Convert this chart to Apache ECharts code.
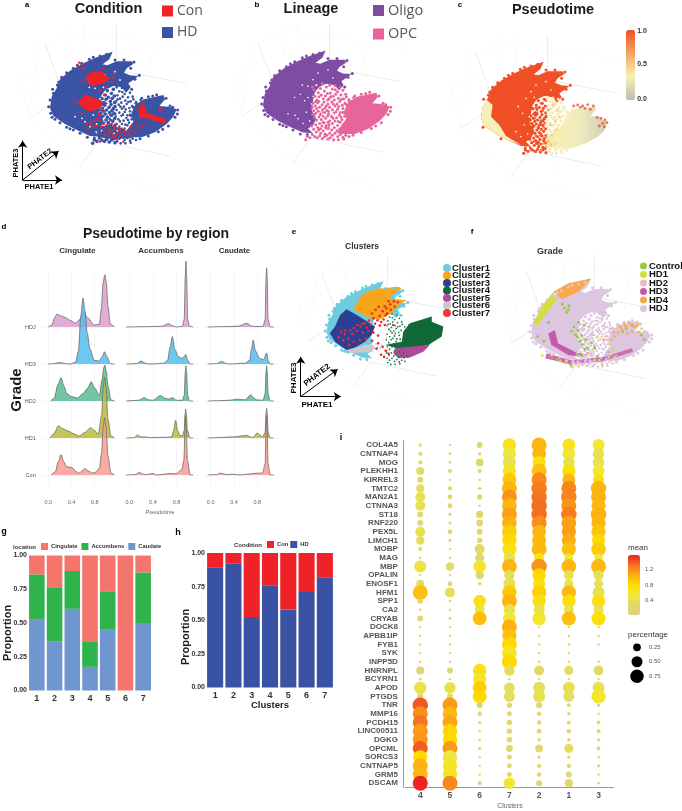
<!DOCTYPE html>
<html><head><meta charset="utf-8">
<style>html,body{margin:0;padding:0;background:#fff}#c{width:682px;height:811px}</style>
<script src="https://cdn.jsdelivr.net/npm/echarts@6/dist/echarts.min.js"></script>
</head><body><div id="c"></div>
<script>
// ---------- embedding outlines (projected PHATE units)
const cloudUpper=[[338,155],[328,178],[308,193],[322,196],[350,184],[395,184],[400,192],[380,205],[372,218],[390,226],[415,228],[400,240],[385,250],[392,262],[378,278],[365,262],[340,258],[318,268],[305,285],[300,310],[296,340],[310,365],[300,385],[285,395],[300,410],[270,408],[235,392],[195,372],[160,348],[150,325],[155,290],[170,265],[180,238],[210,212],[250,190],[290,172]];
const cloudLobe=[[392,345],[405,315],[432,298],[490,285],[495,298],[478,318],[505,320],[530,328],[520,350],[500,372],[465,397],[425,412],[395,412],[372,410],[385,385],[400,365]];
const cloudLowerBand=[[285,378],[340,378],[400,395],[395,415],[340,418],[295,412]];
const edgeUpper=[[160,280],[150,300],[146,320],[152,340],[165,358],[180,368],[200,382],[220,390],[240,400],[262,412],[172,255],[185,232],[200,218],[220,205],[245,190],[268,178],[300,168],[320,163],[345,180],[372,180],[402,186],[392,205],[418,226],[405,238],[395,268],[280,172],[232,196],[176,246],[158,268],[156,352],[210,386],[283,414]];
const edgeLobe=[[408,310],[425,295],[445,290],[470,284],[498,295],[510,318],[533,330],[525,352],[505,378],[475,395],[445,408],[420,416],[390,345],[400,322],[458,288],[518,322],[532,342],[488,388]];
const midWest=[[298,268],[303,276],[310,262],[316,285],[322,272],[328,258],[334,280],[340,268],[306,296],[312,308],[318,298],[325,292],[331,304],[337,295],[343,288],[300,318],[307,325],[314,316],[320,330],[327,322],[333,314],[340,326],[344,308],[302,340],[309,348],[316,342],[322,352],[329,338],[335,346],[342,340],[305,362],[312,370],[318,360],[325,368],[331,358],[338,364],[344,356],[308,384],[314,392],[320,380],[327,388],[333,378],[340,386],[345,376],[302,398],[310,406],[317,400],[323,410],[330,402],[336,412],[343,398],[298,414],[305,420],[313,424],[320,418],[328,426],[335,420],[342,416],[296,388],[304,352],[311,334],[298,330],[326,345],[318,312],[336,332],[330,376],[345,320],[299,352],[308,312],[322,396],[338,392],[291,424],[283,420],[278,430],[345,428]];
const midEast=[[350,262],[358,274],[366,264],[374,282],[382,268],[390,278],[398,290],[352,286],[360,296],[368,290],[376,302],[384,292],[392,304],[400,298],[408,306],[348,304],[356,314],[364,308],[372,320],[380,312],[388,324],[396,318],[350,330],[358,338],[366,326],[374,336],[382,346],[390,334],[347,350],[355,358],[363,348],[371,362],[379,354],[387,368],[395,358],[350,372],[358,380],[366,372],[374,386],[382,376],[390,388],[398,382],[348,392],[356,400],[364,392],[372,402],[380,396],[388,406],[396,400],[404,392],[350,410],[358,416],[366,410],[374,420],[382,414],[390,422],[398,416],[406,408],[414,400],[352,424],[362,430],[376,430],[392,428],[408,420],[418,405],[346,342],[361,320],[377,328],[369,344],[385,306],[353,298],[367,276],[384,360],[348,384],[360,364],[376,374],[393,347],[403,352],[411,330],[416,312],[422,300]];
const whiteSpecks=[[300,245],[310,262],[285,265],[295,320],[280,345],[290,372],[270,380],[255,365],[315,225],[345,215],[360,240],[330,275],[262,290],[275,310],[246,355],[225,350],[285,300],[245,300],[268,262],[325,345],[316,372],[335,355],[305,392],[342,400],[322,315],[300,296],[352,392],[378,390],[360,350]];
// panel a
const redPatchA=[[258,228],[280,212],[305,215],[330,235],[312,250],[280,258],[262,250]];
const redPatchB=[[235,305],[255,283],[285,295],[310,305],[300,325],[270,335],[248,325]];
const redPatchC=[[415,340],[430,302],[440,338],[500,358],[495,372],[445,355],[420,355]];
const redPoints=[[238,188],[245,192],[232,195],[250,205],[340,230],[320,260],[300,270],[300,345],[292,355],[310,372],[285,362],[270,368],[300,362],[320,375],[335,372],[345,380],[355,388],[348,372],[365,385],[340,395],[352,402],[330,395],[375,395],[385,405],[395,392],[405,398],[415,388],[425,380],[440,370],[455,355],[420,318],[428,330],[470,352],[485,325],[478,330],[315,405],[300,425],[370,425],[345,410],[280,380],[265,385],[260,372],[245,340],[230,310],[225,300],[312,285],[250,240],[335,245],[340,220],[310,205],[275,235],[285,245],[295,228],[320,240],[306,332],[296,342],[318,382],[328,388],[360,395],[342,388],[310,390],[325,405],[392,380],[408,375],[432,350],[462,362],[410,330],[272,372],[290,378],[305,380],[338,408],[372,405],[382,392],[362,408],[350,418]];
// panel c
const creamRim=[[165,268],[185,285],[180,320],[205,345],[225,378],[270,405],[235,392],[195,372],[160,348],[150,325],[155,290]];
const lobePseudo=[[337,405],[350,380],[395,345],[405,315],[432,298],[490,290],[495,298],[478,318],[505,320],[527,340],[520,362],[500,380],[465,400],[425,414],[375,416]];
const pseudoPoints=[[300,285,1],[315,292,1],[330,280,1],[345,272,1],[318,308,1],[335,302,1],[312,325,1],[330,332,1],[345,318,1],[305,345,1],[322,355,1],[338,352,.9],[315,378,1],[330,372,1],[345,380,.85],[308,395,1],[322,402,1],[338,400,.75],[352,395,.6],[300,418,1],[315,425,.95],[330,420,.8],[345,410,.65],[360,405,.55],[372,402,.5],[362,375,.5],[375,360,.5],[358,345,.6],[372,332,.5],[385,320,.5],[352,300,.7],[365,285,.6],[380,300,.5],[428,288,1],[440,285,1],[455,288,1],[470,284,1],[487,288,1],[448,292,1],[498,322,1],[510,325,1],[522,330,1],[528,338,1],[515,340,1],[505,348,1],[520,350,1],[478,298,1],[462,295,1]];
// panel e (same projection, coloured by cluster)
const clusterOrange=[[238,248],[266,201],[304,182],[387,174],[398,179],[370,198],[354,212],[414,218],[387,234],[365,262],[321,284],[282,272]];
const clusterNavy=[[178,305],[195,267],[216,248],[250,267],[310,305],[299,333],[277,355],[222,387],[178,355],[161,327]];
const clusterGrey=[[194,388],[277,366],[337,355],[337,377],[299,388],[233,393]];
const clusterGreen=[[403,322],[425,294],[497,272],[497,289],[535,305],[530,338],[486,366],[431,377],[387,377],[343,366],[398,355]];
const clusterPurple=[[376,377],[453,369],[491,366],[469,388],[425,407],[387,410],[370,393]];
const clusterRedPoints=[[300,262],[312,250],[325,270],[335,255],[348,245],[360,232],[372,222],[385,225],[290,285],[305,278],[318,285],[330,290],[345,268],[338,282],[275,295],[262,305],[250,320],[235,330],[222,345],[205,350],[190,340],[270,325],[288,320],[305,325],[320,335],[210,330],[240,355],[260,350],[280,345],[300,352],[225,365],[320,360],[335,372],[345,385],[355,395],[340,405],[330,398],[315,378],[370,300],[375,240],[355,222],[342,238],[322,240],[295,300],[282,308],[268,296],[252,300],[240,310],[228,318],[212,318],[198,322],[310,296],[326,302],[342,300],[350,262],[362,250]];
// panel f
const gradeOrangeTip=[[342,150],[299,193],[247,217],[220,193],[268,166]];
const gradeYellowRim=[[157,293],[183,240],[220,193],[231,219],[194,267],[167,303]];
const gradeMagentaArc=[[225,314],[235,356],[288,383],[330,394],[319,401],[267,394],[214,362],[204,325]];
const gradeMagentaBand=[[199,388],[278,410],[384,399],[469,372],[474,383],[373,415],[268,422],[194,404]];
const gradeGreenPoints=[[255,245],[270,238],[262,258],[285,305],[298,315],[310,332],[322,345],[305,350],[290,330],[340,355],[352,372],[320,375],[310,395],[295,392],[440,320],[452,310],[360,398],[275,425],[232,408],[190,350],[170,335],[205,290],[300,290],[318,300],[470,300],[500,330],[508,345],[278,318],[296,336],[312,360],[330,372],[268,250],[248,232]];
const gradeOrangePoints=[[430,302],[445,295],[462,292],[478,305],[440,315],[425,322],[455,325],[470,318],[485,300],[415,335],[405,345],[490,320],[380,345],[350,365],[395,385],[420,395],[330,388],[435,308],[450,302],[470,295],[412,322]];
const gradeYellowPoints=[[300,430],[280,432],[215,395],[350,410],[375,425],[405,408],[185,395],[360,335],[395,360],[410,375],[500,310],[492,295],[242,412],[260,420]];
const gradePinkPoints=[[345,330],[365,315],[385,335],[400,310],[380,300],[335,305],[360,285],[375,280]];
// frame of the 3D box
const wireMain=[[[135,130],[175,240]],[[350,75],[350,180]],[[375,215],[560,250]],[[280,420],[510,468]],[[90,355],[155,310]],[[240,500],[290,430]]];
const wireFaint=[[[135,130],[240,95]],[[240,95],[585,150]],[[205,82],[215,180]],[[250,70],[258,175]],[[460,135],[445,250]],[[60,235],[90,355]],[[90,355],[240,500]],[[240,500],[480,570]],[[60,235],[135,200]],[[360,500],[395,440]],[[150,420],[190,380]],[[120,130],[85,355]]];
const arrowsA=[[[68,540],[68,422]],[[68,540],[176,453]],[[68,540],[186,540]]];
const arrowsE=[[[65,536],[65,405]],[[65,536],[187,446]],[[65,536],[197,536]]];

// ---------- ridgeline densities [pseudotime, density]
const pseudoTicks=[0,0.4,0.8];
const grades=['Con','HD1','HD2','HD3','HDJ'];
const cingulateHDJ=[[0,0],[.06,.05],[.11,.25],[.15,.35],[.22,.3],[.29,.26],[.38,.18],[.47,.1],[.54,.2],[.61,.38],[.68,.25],[.79,.05],[.88,.08],[.915,.5],[.945,1.2],[.975,1.41],[1,1.2],[1.03,.55],[1.07,.08],[1.14,0]];
const cingulateHD3=[[0,0],[.1,.01],[.19,.04],[.3,.01],[.38,0],[.47,.05],[.52,.35],[.56,1.3],[.6,1.78],[.63,1.45],[.67,.85],[.72,.4],[.79,.1],[.88,.08],[.93,.2],[.97,.33],[1.01,.2],[1.07,.01],[1.14,0]];
const cingulateHD2=[[.04,0],[.1,.07],[.17,.45],[.22,.63],[.27,.4],[.32,.2],[.4,.12],[.5,.08],[.6,.2],[.68,.35],[.74,.52],[.8,.35],[.88,.15],[.93,.6],[.955,.9],[.975,.97],[1,.8],[1.03,.4],[1.08,.03],[1.14,0]];
const cingulateHD1=[[.03,0],[.1,.12],[.175,.33],[.25,.25],[.33,.2],[.43,.12],[.53,.05],[.63,.15],[.73,.28],[.8,.2],[.86,.1],[.92,.6],[.945,1.35],[.97,1.65],[.995,1.35],[1.03,.5],[1.08,.05],[1.14,0]];
const cingulateCon=[[.05,0],[.12,.08],[.17,.35],[.22,.55],[.27,.35],[.32,.22],[.41,.2],[.47,.1],[.53,.05],[.63,.17],[.7,.1],[.76,.05],[.82,.08],[.88,.18],[.92,.6],[.945,1.3],[.97,1.55],[.995,1.3],[1.03,.5],[1.08,.05],[1.14,0]];
const accumbensHDJ=[[-.05,0],[.3,.01],[.55,.02],[.66,.09],[.74,.03],[.8,0],[.9,.02],[.93,.2],[.95,1.4],[.96,1.78],[.97,1.4],[.99,.2],[1.02,.02],[1.08,0]];
const accumbensHD3=[[-.05,0],[.12,.01],[.2,.08],[.27,.02],[.33,0],[.5,.01],[.58,.02],[.65,.1],[.69,.45],[.73,.74],[.77,.4],[.83,.2],[.89,.15],[.93,.2],[.955,.26],[.99,.1],[1.03,0],[1.08,0]];
const accumbensHD2=[[-.05,0],[.16,.02],[.25,.09],[.33,.03],[.4,.02],[.53,.15],[.6,.08],[.66,.05],[.73,.09],[.8,.02],[.9,.02],[.93,.15],[.95,.8],[.96,.95],[.97,.8],[.99,.15],[1.02,0],[1.08,0]];
const accumbensHD1=[[-.05,0],[.09,.01],[.135,.08],[.2,.03],[.27,.03],[.35,.01],[.63,.02],[.72,.03],[.75,.2],[.785,.48],[.82,.2],[.86,.06],[.9,.06],[.93,.2],[.945,.65],[.955,.78],[.965,.65],[.985,.2],[1.03,0],[1.08,0]];
const accumbensCon=[[-.05,0],[.1,.01],[.17,.07],[.24,.02],[.29,.01],[.4,.04],[.46,0],[.58,.02],[.7,.04],[.79,.03],[.89,.15],[.925,.4],[.945,1.3],[.955,1.58],[.965,1.3],[.985,.4],[1.03,0],[1.08,0]];
const caudateHDJ=[[-.05,0],[.2,.01],[.47,.02],[.62,.1],[.7,.03],[.76,.01],[.9,.02],[.935,.2],[.95,1.3],[.96,1.6],[.97,1.3],[.985,.2],[1.02,0],[1.08,0]];
const caudateHD3=[[-.05,0],[.1,.01],[.19,.07],[.27,.01],[.33,0],[.59,.02],[.67,.1],[.7,.4],[.73,.65],[.77,.35],[.84,.15],[.91,.12],[.96,.3],[.99,.08],[1.02,0],[1.08,0]];
const caudateHD2=[[-.05,0],[.16,.01],[.32,.02],[.47,.05],[.59,.03],[.69,.17],[.74,.08],[.79,.03],[.9,.02],[.935,.2],[.95,.8],[.96,.95],[.97,.8],[.985,.2],[1.02,0],[1.08,0]];
const caudateHD1=[[-.05,0],[.1,.01],[.39,.03],[.62,.07],[.72,.01],[.8,.13],[.89,.03],[.935,.15],[.95,.65],[.96,.8],[.97,.65],[.985,.15],[1.02,0],[1.08,0]];
const caudateCon=[[-.05,0],[.1,.01],[.17,.05],[.27,.01],[.39,.02],[.5,0],[.67,.03],[.8,.05],[.89,.05],[.935,.3],[.95,1.3],[.96,1.6],[.97,1.3],[.985,.3],[1.02,0],[1.08,0]];

// ---------- stacked bars
const clusterIds=['1','2','3','4','5','6','7'];
const locCaudate=[.53,.365,.605,.175,.45,0,.50];
const locAccumbens=[.33,.40,.28,.19,.285,0,.375];
const locCingulate=[.14,.235,.115,.635,.265,1,.125];
const condHD=[.89,.92,.525,.76,.58,.71,.815];
const condCon=[.11,.08,.475,.24,.42,.29,.185];

// ---------- dot plot
const genes=['COL4A5','CNTNAP4','MOG','PLEKHH1','KIRREL3','TMTC2','MAN2A1','CTNNA3','ST18','RNF220','PEX5L','LIMCH1','MOBP','MAG','MBP','OPALIN','ENOSF1','HFM1','SPP1','CA2','CRYAB','DOCK8','APBB1IP','FYB1','SYK','INPP5D','HNRNPL','BCYRN1','APOD','PTGDS','TNR','MMP16','PCDH15','LINC00511','DGKG','OPCML','SORCS3','CNTNAP5','GRM5','DSCAM'];
const dotClusters=['4','5','6','7','2','1','3'];
const pct4=[.05,.07,.07,.27,.15,.27,.42,.42,.15,.15,.42,.3,.07,.02,.6,.02,.27,.94,.13,.03,.15,.02,.02,.02,.02,.02,.27,.03,.65,.15,1,.94,.94,.94,.94,.94,.82,.94,.94,.94];
const mean4=[.25,.25,.25,.3,.25,.35,.4,.4,.25,.25,.4,.35,.25,.25,.45,.25,.3,.95,.25,.25,.25,.25,.25,.25,.25,.25,.2,.2,.42,.25,1.38,1.18,1.28,1.12,1.14,1.36,.78,1.02,.98,1.55];
const pct5=[.012,.03,.03,.07,.02,.07,.1,.1,.04,.04,.1,.04,.02,.015,.3,.01,.1,.42,.03,.01,.04,.01,.01,.01,.01,.02,.15,.015,.55,.15,.94,.88,.94,.88,.88,.94,.85,.85,.85,.94];
const mean5=[.25,.25,.25,.25,.25,.25,.25,.25,.25,.25,.25,.25,.25,.25,.28,.25,.25,.35,.25,.25,.25,.25,.25,.25,.25,.25,.2,.2,.42,.22,1.12,.98,1.08,.82,.8,1.12,.5,.6,.62,1.2];
const pct6=[.15,.05,.25,.07,.015,.05,.12,.02,.22,.2,.15,.12,.42,.35,.65,.3,.05,.002,.65,.4,.8,.003,.002,.002,.002,.002,.75,.7,.8,.8,.15,.08,.04,.02,.03,.04,.01,.01,.01,.07];
const mean6=[.25,.25,.25,.25,.25,.25,.25,.25,.25,.25,.25,.25,.3,.25,.6,.25,.25,.3,.7,.5,.95,.3,.3,.3,.3,.3,.7,.6,.85,.8,.2,.2,.2,.2,.2,.2,.2,.2,.2,.2];
const pct7=[.75,.75,.7,.75,.8,.94,.94,.9,.94,.9,.88,.85,.85,.55,.94,.45,.6,.85,.94,.55,.7,.94,.85,.9,.9,.94,.45,.015,.5,.5,.12,.1,.12,.12,.13,.2,.1,.1,.1,.55];
const mean7=[.65,.5,.42,.62,.9,1,1.15,1,1.1,1.02,.88,.8,.7,.4,1,.35,.4,.9,1,.42,.55,1.02,.95,.8,.62,.8,.35,.2,.33,.35,.25,.25,.25,.25,.25,.25,.25,.25,.25,.55];
const pct2=[.94,.8,.7,.94,.94,1,1,1,1,.94,.8,.8,.94,.4,1,.75,.6,.85,.75,.5,.75,.02,.02,.02,.01,.03,.42,.02,.6,.6,.15,.08,.08,.1,.05,.25,.04,.08,.08,.15];
const mean2=[1,1,.72,.95,1.2,1.25,1.28,1.3,1.3,1.18,1,.98,.98,.7,1.15,.8,.72,.85,.72,.42,.6,.25,.25,.25,.25,.25,.3,.25,.35,.4,.25,.25,.25,.25,.25,.25,.25,.25,.25,.25];
const pct1=[.7,.7,.55,.75,.7,.94,1,.94,1,.9,.85,.8,.85,.3,.9,.4,.35,.85,.75,.42,.85,.02,.02,.02,.01,.02,.35,.02,.6,.5,.06,.05,.07,.08,.05,.35,.04,.08,.15,.28];
const mean1=[.65,.55,.42,.72,1,1.2,1.22,1.15,1.25,1.1,1.1,1.05,.95,.55,1,.42,.42,.98,.75,.42,.95,.25,.25,.25,.25,.25,.3,.25,.4,.35,.25,.25,.25,.25,.25,.35,.25,.25,.25,.25];
const pct3=[.6,.55,.55,.6,.5,1,.94,.85,1,.85,.85,.7,.9,.3,.94,.45,.35,.6,.75,.42,.85,.015,.015,.015,.005,.03,.4,.02,.6,.85,.05,.015,.06,.07,.04,.06,.015,.04,.02,.03];
const mean3=[.55,.42,.42,.55,.7,1,1.02,1,1.02,1,.92,.8,.88,.5,.98,.38,.38,.4,.72,.42,.75,.25,.25,.25,.25,.25,.3,.25,.42,.6,.25,.25,.25,.25,.25,.25,.25,.25,.25,.25];
const pctByCluster=[pct4,pct5,pct6,pct7,pct2,pct1,pct3];
const meanByCluster=[mean4,mean5,mean6,mean7,mean2,mean1,mean3];
const sizeLegendLabels=['0.75','0.50','0.25'];
const sizeLegendValues=[.75,.5,.25];
const dotDiameter=p=>p<.006?1:Math.max(2.4,15.5*Math.sqrt(p));

// ---------- building the option
const FONT='"Liberation Sans",Arial,sans-serif';
const grid=[],xAxis=[],yAxis=[],series=[];
function addPanel(left,top,size){
  const i=grid.length;
  grid.push({left,top,width:size,height:size,containLabel:false});
  xAxis.push({type:'value',show:false,min:0,max:600,gridIndex:i});
  yAxis.push({type:'value',show:false,min:0,max:600,inverse:true,gridIndex:i});
  return i;
}
function poly(i,name,pts,color,z){
  series.push({type:'custom',name,xAxisIndex:i,yAxisIndex:i,z:z||2,clip:false,silent:true,itemStyle:{color},data:pts,
    encode:{x:0,y:1},
    renderItem(p,api){ if(p.dataIndex!==0) return null;
      return {type:'polygon',shape:{points:pts.map(q=>api.coord(q))},style:{fill:color}}; }});
}
function dots(i,name,pts,color,size,z){
  series.push({type:'scatter',name,xAxisIndex:i,yAxisIndex:i,symbolSize:size||2.4,z:z||3,silent:true,itemStyle:{color,opacity:1},data:pts});
}
function segs(i,name,data,color,width,arrow){
  series.push({type:'lines',name,coordinateSystem:'cartesian2d',xAxisIndex:i,yAxisIndex:i,z:arrow?6:1,silent:true,polyline:false,
    symbol:arrow?['none','arrow']:['none','none'],symbolSize:arrow?7:0,
    lineStyle:{color,width,opacity:1,curveness:0},data:data.map(c=>({coords:c}))});
}
function frame(i){segs(i,'frame faint',wireFaint,'#f7f7f7',.6);segs(i,'frame main',wireMain,'#e6e6e6',.8);}

// a
const pa=addPanel(0,0,200);frame(pa);
poly(pa,'HD',cloudUpper,'#3b53a4');poly(pa,'HD lobe',cloudLobe,'#3b53a4');poly(pa,'HD band',cloudLowerBand,'#3b53a4');
dots(pa,'HD edge',edgeUpper,'#3b53a4',3);dots(pa,'HD lobe edge',edgeLobe,'#3b53a4',3);
dots(pa,'HD west',midWest,'#3b53a4',3.6);dots(pa,'HD east',midEast,'#3b53a4',2.6);dots(pa,'gap a',whiteSpecks,'#ffffff',1.8);
poly(pa,'Con',redPatchA,'#ee2227',4);poly(pa,'Con 2',redPatchB,'#ee2227',4);poly(pa,'Con 3',redPatchC,'#ee2227',4);
dots(pa,'Con dots',redPoints,'#ee2227',2.4,5);segs(pa,'axes a',arrowsA,'#000',1,true);
// b
const pb=addPanel(213,-5,200);frame(pb);
poly(pb,'Oligo',cloudUpper,'#7d4ca3');
dots(pb,'Oligo edge',edgeUpper,'#7d4ca3',3);
poly(pb,'OPC',cloudLobe,'#e8659b');dots(pb,'OPC lobe edge',edgeLobe,'#e8659b',3);
dots(pb,'OPC west',midWest,'#e8659b',3);dots(pb,'OPC east',midEast,'#e8659b',3);dots(pb,'gap b',whiteSpecks,'#ffffff',1.6);
// c
const pc=addPanel(431,10,200);frame(pc);
poly(pc,'Pseudotime high',cloudUpper,'#f14f25');dots(pc,'Pseudotime edge',edgeUpper.slice(10),'#f14f25',3);
poly(pc,'Pseudotime rim',creamRim,'#f7efb8',3);
dots(pc,'Pseudotime west',midWest,'#f14f25',3.2);dots(pc,'Pseudotime east',midEast,'#f8eab0',3);
series.push({type:'custom',name:'Pseudotime lobe',xAxisIndex:pc,yAxisIndex:pc,z:3,clip:false,silent:true,data:lobePseudo,encode:{x:0,y:1},
  renderItem(p,api){ if(p.dataIndex!==0) return null;
    return {type:'polygon',shape:{points:lobePseudo.map(q=>api.coord(q))},
      style:{fill:new echarts.graphic.LinearGradient(0,0,1,0,[{offset:0,color:'#fbd9a0'},{offset:.2,color:'#f8f0b8'},{offset:.6,color:'#eee9bd'},{offset:1,color:'#cfcdb8'}])}}; }});
dots(pc,'gap c',whiteSpecks.slice(0,14),'#ffffff',1.6);
const pseudoSeriesIndex=series.length;
series.push({type:'scatter',name:'Pseudotime dots',xAxisIndex:pc,yAxisIndex:pc,symbolSize:2.8,z:5,silent:true,data:pseudoPoints});
// e
const pe=addPanel(281,234,182);frame(pe);
poly(pe,'Cluster1',cloudUpper,'#6ecbe0');dots(pe,'Cluster1 edge',edgeUpper,'#6ecbe0',3);
poly(pe,'Cluster2',clusterOrange,'#f9a51a',3);
poly(pe,'Cluster3',clusterNavy,'#2c3f95',3);
poly(pe,'Cluster6',clusterGrey,'#c9c9c9',3);
poly(pe,'Cluster4',clusterGreen,'#11693a',3);
poly(pe,'Cluster5',clusterPurple,'#b1479b',3);
dots(pe,'Cluster4 dots',midEast,'#1c7a45',1.8);
dots(pe,'gap e',midWest.slice(20,50),'#ffffff',3.4,3);
series.push({type:'custom',name:'Cluster7',xAxisIndex:pe,yAxisIndex:pe,z:0,silent:true,itemStyle:{color:'#ee3a3d'},data:[],renderItem(){return null;}});
dots(pe,'Cluster7 dots',clusterRedPoints,'#ee2a2d',2.6,5);segs(pe,'axes e',arrowsE,'#000',1,true);
// f
const pf=addPanel(484,231,189);frame(pf);
poly(pf,'HDJ',cloudUpper,'#dcc6e0');poly(pf,'HDJ lobe',cloudLobe,'#dcc6e0');
dots(pf,'HDJ west',midWest,'#dcc6e0',3);dots(pf,'HDJ east',midEast,'#dcc6e0',2.4);
dots(pf,'HDJ edge',edgeUpper,'#dcc6e0',3);dots(pf,'HDJ lobe edge',edgeLobe,'#dcc6e0',3);
poly(pf,'HD4',gradeOrangeTip,'#f9a94a',3);poly(pf,'HD1',gradeYellowRim,'#d4de3e',3);
poly(pf,'HD3',gradeMagentaArc,'#c65ca9',3);poly(pf,'HD3 band',gradeMagentaBand,'#cf6cb2',3);
series.push({type:'custom',name:'HD2',xAxisIndex:pf,yAxisIndex:pf,z:0,silent:true,itemStyle:{color:'#f0b6b8'},data:[],renderItem(){return null;}});
series.push({type:'custom',name:'Control',xAxisIndex:pf,yAxisIndex:pf,z:0,silent:true,itemStyle:{color:'#97c93d'},data:[],renderItem(){return null;}});
dots(pf,'Control dots',gradeGreenPoints,'#97c93d',2.8,5);dots(pf,'HD4 dots',gradeOrangePoints,'#f9a94a',2.6,5);
dots(pf,'HD1 dots',gradeYellowPoints,'#d4de3e',2.6,5);dots(pf,'HD2 dots',gradePinkPoints,'#f0b6b8',2.6,5);

// d ridges
const ridgeColors={HDJ:'#d99fd0',HD3:'#55bdec',HD2:'#58bd93',HD1:'#bcbc3a',Con:'#f99a94'};
const regions=[
 {name:'Cingulate',left:36.7,width:81.2,ridges:{HDJ:cingulateHDJ,HD3:cingulateHD3,HD2:cingulateHD2,HD1:cingulateHD1,Con:cingulateCon}},
 {name:'Accumbens',left:117.5,width:82.6,ridges:{HDJ:accumbensHDJ,HD3:accumbensHD3,HD2:accumbensHD2,HD1:accumbensHD1,Con:accumbensCon}},
 {name:'Caudate',left:199,width:81.6,ridges:{HDJ:caudateHDJ,HD3:caudateHD3,HD2:caudateHD2,HD1:caudateHD1,Con:caudateCon}}];
regions.forEach((r,k)=>{
  const i=grid.length;
  grid.push({left:r.left,top:253,width:r.width,height:240.5});
  xAxis.push({type:'value',gridIndex:i,min:-.2,max:1.2,interval:.2,axisLine:{show:false},axisTick:{show:false},splitLine:{show:false},
    axisLabel:{margin:6,fontSize:5.5,color:'#666',fontFamily:FONT,formatter:v=>pseudoTicks.some(t=>Math.abs(t-v)<1e-6)?v.toFixed(1):''}});
  yAxis.push({type:'value',gridIndex:i,min:-.5,max:6,interval:.5,axisLine:{show:false},axisTick:{show:false},splitLine:{show:false},
    axisLabel:{show:k===0,margin:1,fontSize:5.5,color:'#555',fontFamily:FONT,formatter:v=>Number.isInteger(v)&&v>=0&&v<5?grades[v]:''}});
  segs(i,'grid '+r.name,pseudoTicks.map(t=>[[t,-.3],[t,5.5]]),'#f1f1f1',.7);
  segs(i,'base '+r.name,grades.map((g,b)=>[[-.1,b],[1.18,b]]),'#f1f1f1',.7);
  ['HDJ','HD3','HD2','HD1','Con'].forEach(g=>{
    const b=grades.indexOf(g);
    series.push({type:'line',name:r.name+' '+g,xAxisIndex:i,yAxisIndex:i,smooth:.3,smoothMonotone:'x',symbol:'none',silent:true,z:3+(4-b)*.1,
      lineStyle:{color:'#6a6a6a',width:.8},itemStyle:{color:ridgeColors[g]},
      areaStyle:{origin:b,color:ridgeColors[g],opacity:.85},
      data:r.ridges[g].map(p=>[p[0],b+p[1]])});
  });
});

// g, h
function addBars(left,top,width,height,labelSize,yMargin){
  const i=grid.length;
  grid.push({left,top,width,height});
  xAxis.push({type:'category',gridIndex:i,data:clusterIds,axisLine:{show:false},axisTick:{show:false},
    axisLabel:{margin:4,fontSize:9,fontWeight:'bold',color:'#333',fontFamily:FONT}});
  yAxis.push({type:'value',gridIndex:i,min:0,max:1,interval:.25,axisLine:{show:false},axisTick:{show:false},splitLine:{show:false},
    axisLabel:{margin:yMargin,fontSize:labelSize,fontWeight:'bold',color:'#333',fontFamily:FONT,formatter:v=>v.toFixed(2)}});
  return i;
}
const gi=addBars(28,555.5,124,135,7,1);
[['Caudate',locCaudate,'#7096cf'],['Accumbens',locAccumbens,'#2fb34c'],['Cingulate',locCingulate,'#f4756c']].forEach(([n,d,c])=>
  series.push({type:'bar',name:n,xAxisIndex:gi,yAxisIndex:gi,stack:'loc',barCategoryGap:'12%',silent:true,itemStyle:{color:c},data:d}));
const hi=addBars(206,553,128,134.5,7,1);
[['HD',condHD,'#3a52a3'],['Con',condCon,'#ee2227']].forEach(([n,d,c])=>
  series.push({type:'bar',name:n,xAxisIndex:hi,yAxisIndex:hi,stack:'cond',barCategoryGap:'12%',silent:true,itemStyle:{color:c},data:d}));

// i
const di=grid.length;
grid.push({left:405.4,top:440.7,width:208,height:346.8});
xAxis.push({type:'category',gridIndex:di,data:dotClusters,axisLine:{lineStyle:{color:'#999',width:1}},axisTick:{show:false},
  axisLabel:{margin:4,fontSize:8.5,fontWeight:'bold',color:'#555',fontFamily:FONT}});
yAxis.push({type:'category',gridIndex:di,data:genes,inverse:true,offset:2.5,axisLine:{lineStyle:{color:'#999',width:1}},axisTick:{length:2,lineStyle:{color:'#999',width:.6}},
  axisLabel:{margin:5,interval:0,fontSize:8,fontWeight:'bold',color:'#555',fontFamily:FONT}});
const dotSeriesIndex=series.length;
const dotData=[];
genes.forEach((g,r)=>dotClusters.forEach((c,k)=>dotData.push([k,r,pctByCluster[k][r],meanByCluster[k][r]])));
series.push({type:'scatter',name:'mean',xAxisIndex:di,yAxisIndex:di,silent:true,z:3,symbolSize:v=>dotDiameter(v[2]),itemStyle:{opacity:1},encode:{x:0,y:1},data:dotData});
// percentage key
const ki=grid.length;
grid.push({left:627,top:640,width:20,height:43.5});
xAxis.push({type:'category',gridIndex:ki,data:['percentage'],show:false});
yAxis.push({type:'category',gridIndex:ki,data:sizeLegendLabels,position:'right',axisLine:{show:false},axisTick:{show:false},
  axisLabel:{margin:2,fontSize:6,color:'#555',fontFamily:FONT}});
series.push({type:'scatter',name:'percentage',xAxisIndex:ki,yAxisIndex:ki,silent:true,itemStyle:{color:'#000',opacity:1},symbolSize:v=>dotDiameter(v[2]),
  data:sizeLegendLabels.map((l,n)=>[0,n,sizeLegendValues[n]]),encode:{x:0,y:1}});

// text
const T=(text,x,y,size,opts={})=>({type:'text',x,y,rotation:opts.rot||0,z:50,silent:true,style:{text,fontFamily:opts.family||FONT,fontSize:size,fontWeight:opts.weight||'bold',fill:opts.fill||'#1a1a1a',align:opts.align||'center',verticalAlign:'middle'}});
const deg=d=>d*Math.PI/180;
const texts=[
 T('a',27,5,7.5,{fill:'#000'}),T('b',257,5,8,{fill:'#000'}),T('c',460,5,8,{fill:'#000'}),T('d',4,227,8,{fill:'#000'}),
 T('e',294,232,8,{fill:'#000'}),T('f',472,232,8,{fill:'#000'}),T('g',4,532,9,{fill:'#000'}),T('h',178,533,9,{fill:'#000'}),T('i',341,438,9,{fill:'#000'}),
 T('Condition',108.5,9,14.5),T('Lineage',311,9,14.5),T('Pseudotime',553,10,14.5),
 T('PHATE1',39,187,7.5,{fill:'#000'}),T('PHATE3',16,163,7.5,{fill:'#000',rot:deg(90)}),T('PHATE2',40,159,7.5,{fill:'#000',rot:deg(38)}),
 T('PHATE1',317,405,8,{fill:'#000'}),T('PHATE3',294,378,8,{fill:'#000',rot:deg(90)}),T('PHATE2',317,375,8,{fill:'#000',rot:deg(38)}),
 T('1.0',642,31,7,{fill:'#333'}),T('0.5',642,64,7,{fill:'#333'}),T('0.0',642,99,7,{fill:'#333'}),
 T('Pseudotime by region',156,234,14),T('Cingulate',77.5,251,8,{fill:'#333'}),T('Accumbens',161,251,8,{fill:'#333'}),T('Caudate',234.5,251,8,{fill:'#333'}),
 T('Grade',17,390,15,{rot:deg(90)}),T('Pseudotime',160,512,5.5,{weight:'normal',fill:'#666'}),
 T('Clusters',362,247,8.5,{fill:'#333'}),T('Grade',550,252,9,{fill:'#333'}),
 T('location',24.5,547,6,{fill:'#333'}),T('Condition',248,545,6,{fill:'#333'}),
 T('Proportion',8,633,11,{rot:deg(90),fill:'#222'}),T('Proportion',186,637,11,{rot:deg(90),fill:'#222'}),T('Clusters',270,705,9.5,{fill:'#222'}),
 T('Clusters',510,806,7,{weight:'normal',fill:'#666'}),
 T('mean',628,548,8,{weight:'normal',fill:'#333',align:'left'}),T('percentage',628,635,8,{weight:'normal',fill:'#333',align:'left'}),
 T('1.2',645,569,6,{weight:'normal',fill:'#555',align:'left'}),T('0.8',645,585,6,{weight:'normal',fill:'#555',align:'left'}),T('0.4',645,600,6,{weight:'normal',fill:'#555',align:'left'})
];

const legStyle=(size,weight,color,family)=>({fontSize:size,fontWeight:weight,color,fontFamily:family||FONT});
const legend=[
 {data:['Con','HD'],left:162,top:4,orient:'vertical',icon:'rect',itemWidth:11,itemHeight:11,itemGap:7.5,padding:0,selectedMode:false,textStyle:{...legStyle(14,'normal','#555','"Open Sans"'),padding:[0,0,0,-1]}},
 {data:['Oligo','OPC'],left:373,top:3,orient:'vertical',icon:'rect',itemWidth:11,itemHeight:11,itemGap:8.5,padding:0,selectedMode:false,textStyle:{...legStyle(14.5,'normal','#555','"Open Sans"'),padding:[0,0,0,-1]}},
 {data:['Cluster1','Cluster2','Cluster3','Cluster4','Cluster5','Cluster6','Cluster7'],left:443,top:263,orient:'vertical',icon:'circle',itemWidth:8,itemHeight:8,itemGap:-2.5,padding:0,selectedMode:false,textStyle:{...legStyle(9.5,'bold','#111'),padding:[0,0,0,-4]}},
 {data:['Control','HD1','HD2','HD3','HD4','HDJ'],left:640,top:261,orient:'vertical',icon:'circle',itemWidth:7,itemHeight:7,itemGap:-1.5,padding:0,selectedMode:false,textStyle:{...legStyle(9.5,'bold','#111'),padding:[0,0,0,-3]}},
 {data:['Cingulate','Accumbens','Caudate'],left:41,top:543,icon:'rect',itemWidth:7,itemHeight:7,itemGap:4,padding:0,selectedMode:false,textStyle:{...legStyle(5.8,'bold','#333'),padding:[0,0,0,-2]}},
 {data:['Con','HD'],left:267,top:541,icon:'rect',itemWidth:7,itemHeight:7,itemGap:2,padding:0,selectedMode:false,textStyle:{...legStyle(5.8,'bold','#333'),padding:[0,0,0,-2]}}
];
const visualMap=[
 {type:'continuous',seriesIndex:pseudoSeriesIndex,dimension:2,min:0,max:1,left:626,top:30,itemWidth:9,itemHeight:70,padding:0,calculable:false,realtime:false,inRange:{color:['#bdbdb5','#f7f0b5','#f3a55f','#f14f25']},text:null},
 {type:'continuous',seriesIndex:dotSeriesIndex,dimension:3,min:.01,max:1.56,left:628,top:555,itemWidth:12,itemHeight:60,padding:0,calculable:false,realtime:false,inRange:{color:['#dcd47c','#e0d86c','#f0e838','#ffdc00','#fdae15','#f46f20','#ee2024']},text:null}
];
const chart=echarts.init(document.getElementById('c'),null,{renderer:'canvas'});
chart.setOption({animation:false,backgroundColor:'#fff',grid,xAxis,yAxis,series,legend,visualMap,graphic:{elements:texts}});
</script></body></html>
